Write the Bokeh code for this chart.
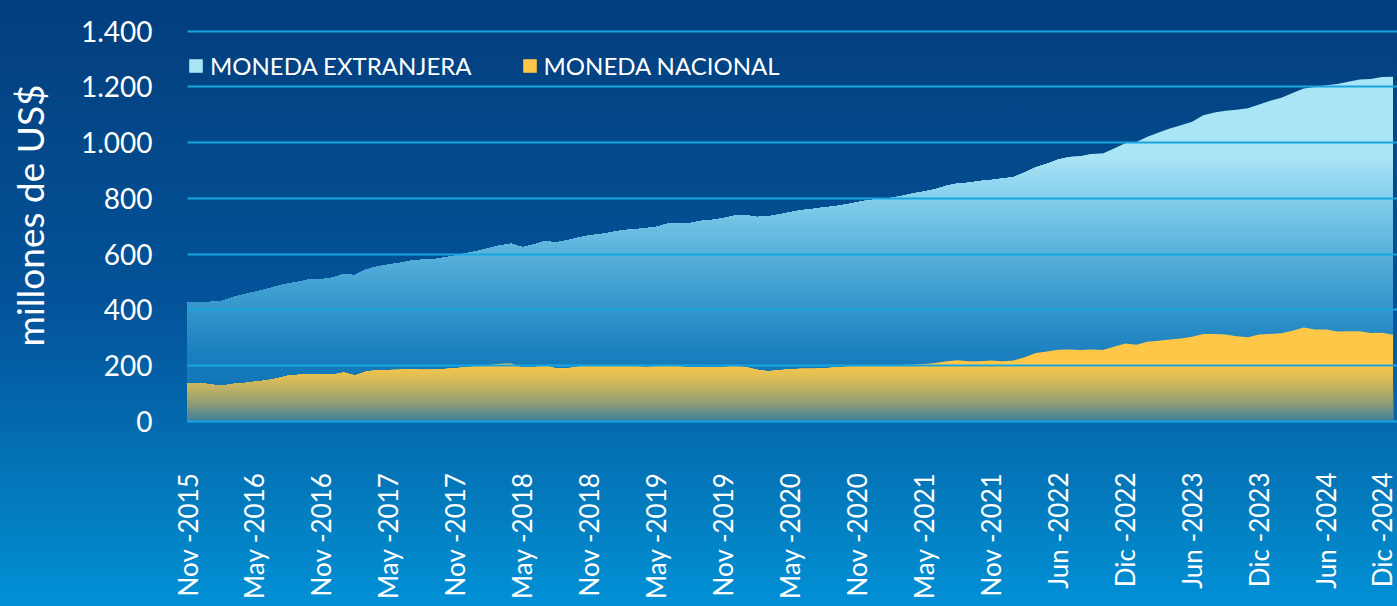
import math
import numpy as np
from bokeh.plotting import figure
from bokeh.models import Range1d, FixedTicker, Legend, LegendItem
from bokeh.embed import file_html
from bokeh.resources import INLINE

# ---------------- data ----------------
tick_labels = ["Nov -2015", "May -2016", "Nov -2016", "May -2017", "Nov -2017",
               "May -2018", "Nov -2018", "May -2019", "Nov -2019", "May -2020",
               "Nov -2020", "May -2021", "Nov -2021", "Jun -2022", "Dic -2022",
               "Jun -2023", "Dic -2023", "Jun -2024", "Dic -2024"]
tick_step = 6

# total outstanding (moneda extranjera area top = total)
total = [426, 427, 428, 430, 444, 454, 464, 473, 485, 494,
         501, 510, 510, 515, 528, 524, 544, 556, 562, 568,
         576, 580, 581, 588, 594, 603, 611, 621, 631, 637,
         625, 634, 646, 642, 649, 659, 667, 671, 678, 686,
         688, 693, 697, 709, 710, 711, 719, 722, 729, 738,
         739, 733, 735, 742, 750, 757, 762, 767, 772, 778,
         786, 793, 797, 801, 808, 817, 825, 833, 845, 853,
         856, 862, 866, 871, 876, 893, 912, 924, 939, 948,
         951, 959, 961, 979, 998, 1002, 1021, 1036, 1051, 1062,
         1075, 1098, 1108, 1114, 1118, 1123, 1137, 1150, 1161, 1178,
         1194, 1199, 1206, 1210, 1218, 1226, 1228, 1235, 1236]

nacional = [137, 137, 133, 127, 134, 137, 142, 147, 154, 164,
            167, 169, 167, 167, 175, 165, 179, 183, 184, 185,
            187, 185, 185, 188, 191, 195, 197, 202, 207, 208,
            193, 194, 201, 191, 191, 196, 200, 200, 200, 201,
            198, 195, 197, 203, 197, 194, 194, 193, 195, 197,
            195, 185, 180, 183, 187, 189, 189, 191, 193, 196,
            198, 200, 198, 197, 202, 203, 206, 209, 216, 219,
            216, 216, 218, 216, 218, 230, 245, 251, 257, 258,
            256, 258, 256, 268, 279, 275, 286, 289, 294, 297,
            304, 313, 313, 312, 305, 302, 312, 313, 316, 325,
            337, 330, 330, 322, 323, 323, 317, 318, 311]

y_ticks = [0, 200, 400, 600, 800, 1000, 1200, 1400]
series_names = ["MONEDA EXTRANJERA", "MONEDA NACIONAL"]

# ---------------- styling helpers ----------------
FONT = "Lato"

def hex2rgb(h):
    h = h.lstrip("#")
    return np.array([int(h[i:i + 2], 16) for i in (0, 2, 4)], dtype=float)

def ramp(stops):
    vs = np.array([s[0] for s in stops], dtype=float)
    cs = np.array([hex2rgb(s[1]) for s in stops])
    def f(v):
        rgb = [np.interp(v, vs, cs[:, k]) for k in range(3)]
        return "#%02x%02x%02x" % tuple(int(round(c)) for c in rgb)
    return f

cyan_col = ramp([(0, "#0c6bae"), (100, "#0f72b4"), (200, "#167bbb"), (300, "#2387c3"),
                 (400, "#3395cb"), (500, "#46a3d3"), (600, "#58b1db"), (700, "#6cbfe2"),
                 (800, "#84cfeb"), (900, "#9ddcf2"), (950, "#aae5f6"), (2000, "#ace7f7")])
yellow_col = ramp([(0, "#3e7d9d"), (25, "#5b8a8f"), (60, "#8a9b7a"), (100, "#b0ab69"),
                   (150, "#d8bb58"), (190, "#f2c44c"), (200, "#fec747"), (2000, "#fec747")])

# ---------------- figure ----------------
n = len(total)
x = np.arange(n)
tot = np.array(total, dtype=float)
nac = np.array(nacional, dtype=float)

p = figure(width=1397, height=606, output_backend="svg", toolbar_location=None,
           x_range=Range1d(0, 108.4), y_range=Range1d(-4, 1481),
           min_border_left=187, min_border_right=0, min_border_top=8, min_border_bottom=184)
p.background_fill_color = None
p.border_fill_color = None
p.outline_line_color = None

# moneda extranjera (total) with vertical colour ramp drawn as stacked bands
cyan_edges = list(range(960, 0, -10))
r_cyan = p.varea(x=x, y1=0, y2=np.minimum(tot, 2000), fill_color=cyan_col(1000))
for b in cyan_edges:
    p.varea(x=x, y1=0, y2=np.minimum(tot, b), fill_color=cyan_col(b - 5))

# moneda nacional
yellow_edges = list(range(204, 0, -4))
r_yel = p.varea(x=x, y1=0, y2=np.minimum(nac, 2000), fill_color=yellow_col(500))
for b in yellow_edges:
    p.varea(x=x, y1=0, y2=np.minimum(nac, b), fill_color=yellow_col(b - 2))

# axes
tick_pos = list(range(0, n, tick_step))
xa = p.xaxis[0]
xa.ticker = FixedTicker(ticks=tick_pos)
xa.major_label_overrides = {t: lab for t, lab in zip(tick_pos, tick_labels)}
xa.major_label_orientation = math.pi / 2
xa.major_label_standoff = 50
xa.axis_line_color = None
xa.major_tick_line_color = None
xa.minor_tick_line_color = None
xa.major_tick_out = 0
xa.major_label_text_color = "white"
xa.major_label_text_font = FONT
xa.major_label_text_font_size = "26px"

ya = p.yaxis[0]
ya.ticker = FixedTicker(ticks=y_ticks)
ya.major_label_overrides = {t: f"{t:,}".replace(",", ".") for t in y_ticks}
ya.major_label_standoff = 35
ya.axis_line_color = None
ya.major_tick_line_color = None
ya.minor_tick_line_color = None
ya.major_tick_out = 0
ya.major_label_text_color = "white"
ya.major_label_text_font = FONT
ya.major_label_text_font_size = "28px"
ya.axis_label = "millones de US$"
ya.axis_label_text_color = "white"
ya.axis_label_text_font = FONT
ya.axis_label_text_font_style = "normal"
ya.axis_label_text_font_size = "37px"
ya.axis_label_standoff = 26

p.xgrid.visible = False
p.ygrid.ticker = FixedTicker(ticks=y_ticks)
p.ygrid.grid_line_color = "#16a6e2"
p.ygrid.grid_line_width = 2
p.ygrid.level = "overlay"

legend = Legend(items=[LegendItem(label=series_names[0], renderers=[r_cyan]),
                       LegendItem(label=series_names[1], renderers=[r_yel])],
                orientation="horizontal", location=(0, 342),
                background_fill_alpha=0, border_line_color=None,
                padding=0, margin=0, spacing=49, label_standoff=6,
                glyph_width=17, glyph_height=17,
                label_text_color="white", label_text_font=FONT,
                label_text_font_size="24px")
p.add_layout(legend)

html = file_html(p, INLINE, title="Depósitos")
css = ("<style>html{min-height:100%;background:linear-gradient(to bottom,"
       "#033e7e 0%,#034889 23%,#03539a 50%,#0469ae 70%,#037ec0 85%,#0190d6 100%) no-repeat;}"
       "body{background:transparent;}</style>")
html = html.replace("</head>", css + "</head>", 1)
open("out.html", "w").write(html)
